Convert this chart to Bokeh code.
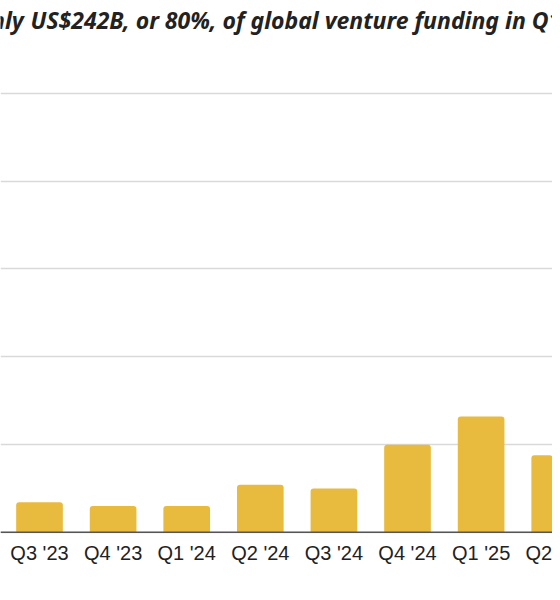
from bokeh.plotting import figure
from bokeh.models import Range1d, FixedTicker, Label, Span
from bokeh.core.properties import value
from bokeh.embed import file_html
from bokeh.resources import INLINE

# quarterly funding, US$B
quarters = ["Q3 '23", "Q4 '23", "Q1 '24", "Q2 '24", "Q3 '24", "Q4 '24", "Q1 '25", "Q2 '25"]
funding = [17.1, 15.0, 15.0, 27.0, 24.9, 49.9, 65.9, 43.9]
grid_ticks = [0, 50, 100, 150, 200, 250]

title_head = "Roughly"
title_tail = "US$242B, or 80%, of global venture funding in Q1"

BAR = "#E8BB3F"
TEXT = "#222222"

xs = list(range(len(quarters)))

# the frame fills the whole figure so that the quarter labels get clipped at the
# right edge the same way the bars are
p = figure(
    width=552,
    height=592,
    x_range=Range1d(-0.53, 6.97),
    y_range=Range1d(-34.3, 302.8),
    output_backend="svg",
    toolbar_location=None,
    tools="",
    min_border=0,
)
p.outline_line_color = None
p.background_fill_color = "white"
p.border_fill_color = "white"
p.axis.visible = False

p.yaxis.ticker = FixedTicker(ticks=grid_ticks)
p.ygrid.grid_line_color = "#d9d9d9"
p.ygrid.grid_line_width = 1.5
p.xgrid.grid_line_color = None

p.vbar(x=xs, top=funding, width=0.634, fill_color=BAR, line_color=None,
       border_radius=(3, 3, 0, 0))

p.add_layout(Span(location=0, dimension="width", line_color="#555555", line_width=1.5))

p.text(x=xs, y=[0] * len(xs), text=quarters, y_offset=21,
       text_align="center", text_baseline="alphabetic",
       text_font=value("Liberation Sans"), text_font_size=value("20px"),
       text_color=TEXT)

# title, cut off at both edges like the source
for txt, x, align in [(title_head, 23.3, "right"), (title_tail, 30, "left")]:
    p.add_layout(Label(
        x=x, y=572.7, x_units="screen", y_units="screen", text=txt,
        text_align=align, text_baseline="alphabetic",
        text_font="Noto Sans", text_font_style="bold italic",
        text_font_size="23px", text_color=TEXT,
    ))

open("out.html", "w").write(file_html(p, INLINE))
